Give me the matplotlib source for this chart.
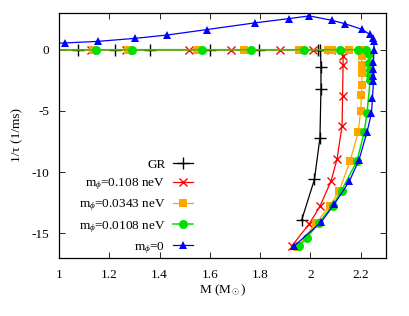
import matplotlib
matplotlib.use("Agg")
import matplotlib.pyplot as plt

plt.rcParams['font.family'] = ['Liberation Serif', 'DejaVu Serif']
plt.rcParams['mathtext.fontset'] = 'custom'
plt.rcParams['mathtext.rm'] = 'Liberation Serif'
plt.rcParams['mathtext.it'] = 'Liberation Serif:italic'

# GR
gr_M = [0.95, 1.075, 1.221, 1.36, 1.599, 1.795, 2.032, 2.040, 2.042, 2.042, 2.038, 2.016, 1.965]
gr_y = [0, 0, 0, 0, 0, 0, 0, 0, -1.42, -3.22, -7.19, -10.6, -13.93]

# m_phi = 0.108 neV
r_M = [0.95, 1.128, 1.267, 1.516, 1.685, 1.881, 2.009, 2.082, 2.128, 2.130, 2.130, 2.128, 2.126,
       2.106, 2.082, 2.038, 1.996, 1.926]
r_y = [0, 0, 0, 0, 0, 0, 0, 0, 0, -0.55, -1.25, -3.75, -6.2, -8.93, -10.74, -12.79, -14.2, -16.04]

# m_phi = 0.0343 neV
o_M = [0.95, 1.135, 1.274, 1.549, 1.734, 1.956, 2.070, 2.085, 2.152, 2.201, 2.205, 2.205, 2.205,
       2.205, 2.203, 2.200, 2.190, 2.158, 2.115, 2.078, 2.023, 1.946]
o_y = [0, 0, 0, 0, 0, 0, 0, 0, 0, 0, -0.49, -1.23, -1.91, -2.87, -3.69, -5.0, -6.75, -9.1,
       -11.5, -12.73, -14.16, -16.12]

# m_phi = 0.0108 neV
g_M = [0.95, 1.148, 1.29, 1.570, 1.765, 1.976, 2.119, 2.188, 2.223, 2.233, 2.235, 2.238, 2.238,
       2.238, 2.225, 2.214, 2.185, 2.124, 2.088, 2.033, 1.985, 1.953]
g_y = [0, 0, 0, 0, 0, 0, 0, 0, 0, -0.33, -1.09, -1.64, -2.05, -2.46, -5.19, -6.75, -9.1,
       -11.5, -12.73, -14.16, -15.39, -16.07]

# m_phi = 0
b_M = [0.96, 1.024, 1.155, 1.304, 1.431, 1.587, 1.779, 1.915, 1.996, 2.085, 2.136, 2.204, 2.236,
       2.248, 2.253, 2.253, 2.251, 2.251, 2.251, 2.251, 2.247, 2.243, 2.225, 2.193, 2.155,
       2.095, 2.042, 1.933]
b_y = [0.5, 0.55, 0.68, 0.93, 1.20, 1.64, 2.19, 2.54, 2.76, 2.40, 2.13, 1.67, 1.26, 0.98, 0.74,
       0.0, -0.98, -1.58, -2.13, -2.54, -3.96, -5.19, -6.75, -9.02, -10.74, -12.62, -14.1, -16.07]

labels = ['GR', r'm$_\phi$=0.108 neV', r'm$_\phi$=0.0343 neV', r'm$_\phi$=0.0108 neV', r'm$_\phi$=0']

fig = plt.figure(figsize=(4.10, 3.16), dpi=100)
ax = fig.add_axes([0.144, 0.184, 0.797, 0.775])

lw = 0.9
ax.plot(gr_M, gr_y, color='black', lw=lw, marker='+', ms=8, mew=1.0, label=labels[0])
ax.plot(r_M, r_y, color='#ff0000', lw=lw, marker='x', ms=6, mew=1.0, label=labels[1])
ax.plot(o_M, o_y, color='#ffa500', lw=lw, marker='s', ms=5.5, mew=0, label=labels[2])
ax.plot(g_M, g_y, color='#00e000', lw=1.1, marker='o', ms=6.5, mew=0, label=labels[3])
ax.plot(b_M, b_y, color='#0000ff', lw=lw, marker='^', ms=6, mew=0, label=labels[4])

ax.set_xlim(1, 2.3)
ax.set_ylim(-17, 3)
ax.set_xticks([1, 1.2, 1.4, 1.6, 1.8, 2, 2.2])
ax.set_xticklabels(['1', '1.2', '1.4', '1.6', '1.8', '2', '2.2'])
ax.set_yticks([0, -5, -10, -15])
ax.set_yticklabels(['0', '-5', '-10', '-15'])
ax.tick_params(direction='in', top=True, right=True, labelsize=9.5, length=4, width=0.6)
ax.tick_params(axis='x', pad=8)
ax.tick_params(axis='y', pad=7)
for s in ax.spines.values():
    s.set_linewidth(0.9)

ax.set_xlabel(r'M (M$_\odot$)', fontsize=9.5, labelpad=1)
ax.set_ylabel(r'1/τ (1/ms)', fontsize=9.5, labelpad=6)

ax.legend(loc='upper right', bbox_to_anchor=(0.41, 0.405), markerfirst=False, frameon=False,
          fontsize=9.5, handlelength=1.5, labelspacing=0.42, borderaxespad=0, borderpad=0,
          handletextpad=0.6)

fig.savefig('out.png', dpi=100)
